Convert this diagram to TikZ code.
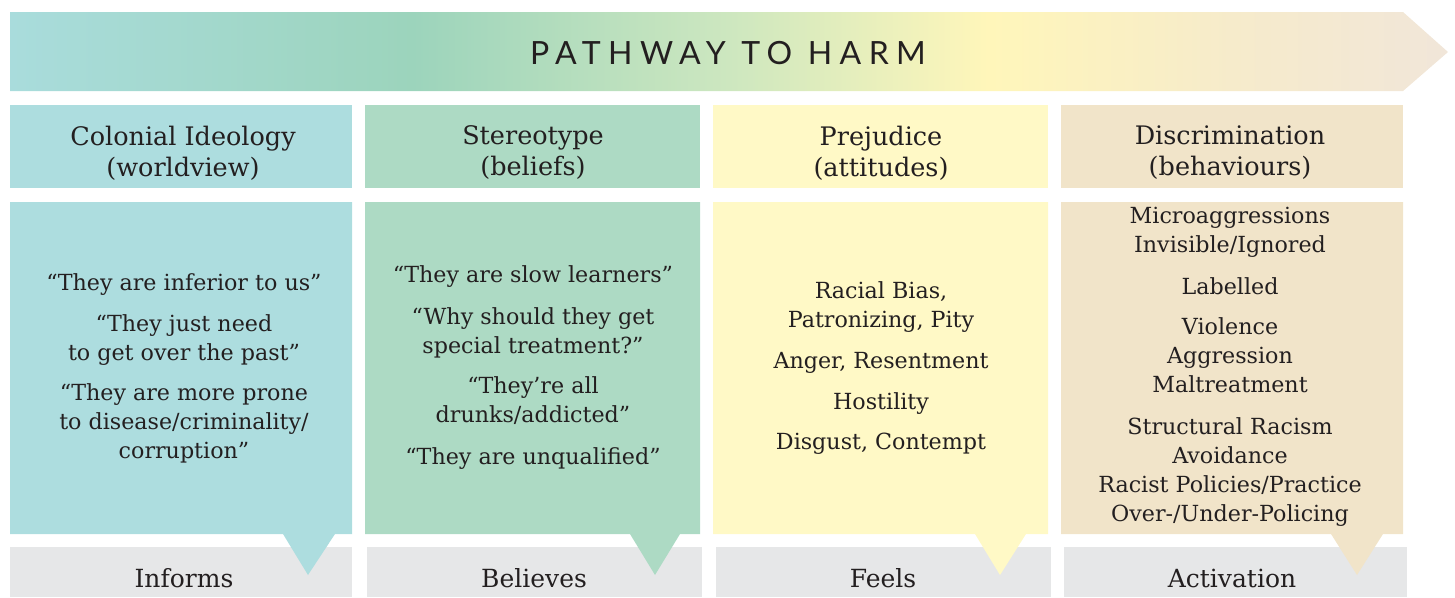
\documentclass[tikz,border=0pt]{standalone}
\usepackage{fontspec}
\setmainfont{DejaVu Serif}
\newfontfamily\titlefont[LetterSpace=23]{Lato}
\definecolor{txt}{HTML}{231F20}
\definecolor{cA}{HTML}{ADDDDF}
\definecolor{cB}{HTML}{ADDAC4}
\definecolor{cC}{HTML}{FFF9C6}
\definecolor{cD}{HTML}{F1E4C9}
\definecolor{gry}{HTML}{E6E7E8}
\definecolor{g0}{HTML}{A9DCDC}
\definecolor{g1}{HTML}{9CD4BC}
\definecolor{g2}{HTML}{CDE7BF}
\definecolor{g3}{HTML}{FFF6BA}
\definecolor{g4}{HTML}{F6EBCB}
\definecolor{g5}{HTML}{F1E6D9}
\pgfdeclarehorizontalshading{harm}{100bp}{color(0bp)=(g0); color(25bp)=(g0); color(39bp)=(g1); color(50bp)=(g2); color(59bp)=(g3); color(67.5bp)=(g4); color(75bp)=(g5); color(100bp)=(g5)}
\tikzset{
  hdr/.style={inner sep=0pt, text=txt, align=center, font=\fontsize{25.5}{31}\selectfont},
  bodytxt/.style={inner sep=0pt, text=txt, align=center, font=\fontsize{22.2}{29}\selectfont},
  foot/.style={inner sep=0pt, text=txt, font=\fontsize{25}{29}\selectfont},
}
\begin{document}
\begin{tikzpicture}[x=1pt,y=-1pt]
\useasboundingbox (0,0) rectangle (1455,597);
% banner
\shade[shading=harm] (10,12) -- (1403,12) -- (1448,52) -- (1403,91) -- (10,91) -- cycle;
\node[inner sep=0pt, text=txt, font=\titlefont\fontsize{32}{32}\selectfont] (title) at (728,53) {PATHWAY TO HARM};
% grey footers
\fill[gry] (10,547) rectangle (352,597);
\fill[gry] (367,547) rectangle (702,597);
\fill[gry] (716,547) rectangle (1051,597);
\fill[gry] (1064,547) rectangle (1407,597);
% headers
\fill[cA] (10,105) rectangle (352,188);
\fill[cB] (365,105) rectangle (700,188);
\fill[cC] (713,105) rectangle (1048,188);
\fill[cD] (1061,105) rectangle (1403,188);
% bodies with pointers
\fill[cA] (10,202) -- (352,202) -- (352,534) -- (335,534) -- (308,575) -- (283,534) -- (10,534) -- cycle;
\fill[cB] (365,202) -- (700,202) -- (700,534) -- (680,534) -- (655,575) -- (630,534) -- (365,534) -- cycle;
\fill[cC] (713,202) -- (1048,202) -- (1048,534) -- (1026,534) -- (1000,575) -- (975,534) -- (713,534) -- cycle;
\fill[cD] (1061,202) -- (1403,202) -- (1403,534) -- (1383,534) -- (1357,575) -- (1331,534) -- (1061,534) -- cycle;
% header texts
\node[hdr] (h1) at (183,153) {Colonial Ideology\\(worldview)};
\node[hdr] (h2) at (533,153) {Stereotype\\(beliefs)};
\node[hdr] (h3) at (881,153) {Prejudice\\(attitudes)};
\node[hdr] (h4) at (1230,153) {Discrimination\\(behaviours)};
% body texts
\node[bodytxt] (b1) at (184,368) {“They are inferior to us”\\[12pt]“They just need\\to get over the past”\\[11pt]“They are more prone\\to disease/criminality/\\corruption”};
\node[bodytxt] (b2) at (533,368) {“They are slow learners”\\[13pt]“Why should they get\\special treatment?”\\[11pt]“They’re all\\drunks/addicted”\\[13pt]“They are unqualified”};
\node[bodytxt] (b3) at (881,368) {Racial Bias,\\Patronizing, Pity\\[12pt]Anger, Resentment\\[12pt]Hostility\\[11pt]Disgust, Contempt};
\node[bodytxt] (b4) at (1230,367) {Microaggressions\\Invisible/Ignored\\[13pt]Labelled\\[11pt]Violence\\Aggression\\Maltreatment\\[13pt]Structural Racism\\Avoidance\\Racist Policies/Practice\\Over-/Under-Policing};
% footer texts
\node[foot] (f1) at (184,578) {Informs};
\node[foot] (f2) at (534,578) {Believes};
\node[foot] (f3) at (883,578) {Feels};
\node[foot] (f4) at (1232,578) {Activation};
\end{tikzpicture}
\end{document}
